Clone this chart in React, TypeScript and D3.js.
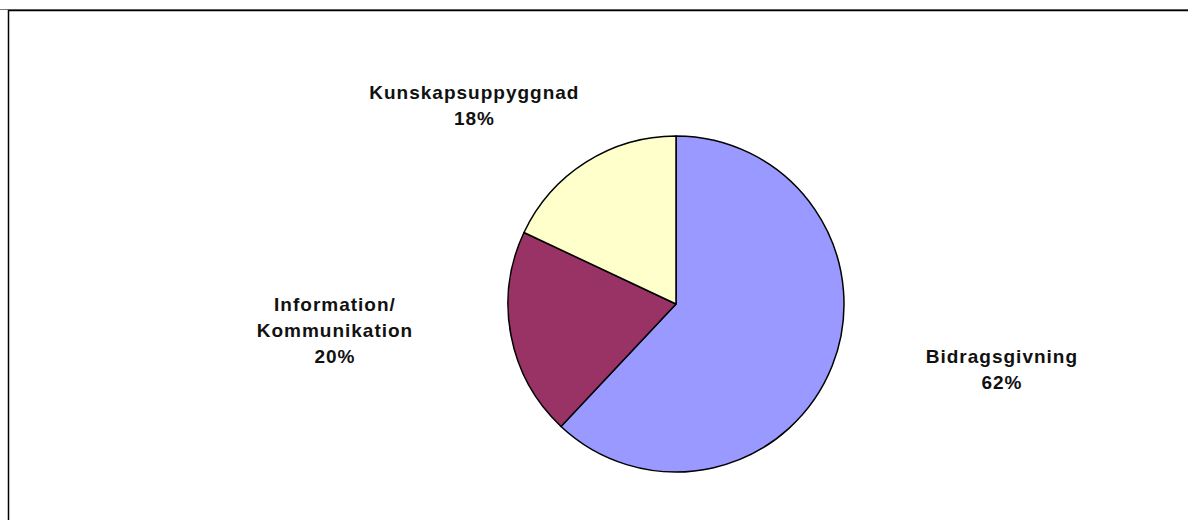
import React from "react";
import * as d3 from "d3";

const categories = ["Bidragsgivning", "Information/\nKommunikation", "Kunskapsuppyggnad"];
const values = [62, 20, 18];
const colors = ["#9999FF", "#993366", "#FFFFCC"];

const W = 1188;
const H = 520;
const cx = 676;
const cy = 304;
const R = 168;

// label anchor (center x, first baseline y) relative to pie center, in units of radius
const labelLayout = [
  { dx: 1.94, dy: 0.35 },
  { dx: -2.03, dy: 0.04 },
  { dx: -1.2, dy: -1.22 },
];

export default function App() {
  const pie = d3.pie<number>().sort(null).value((d) => d)(values);
  const arc = d3.arc<d3.PieArcDatum<number>>().innerRadius(0).outerRadius(R);
  const total = d3.sum(values);
  const lineH = 26;
  return (
    <svg
      width={W}
      height={H}
      style={{ position: "absolute", left: 0, top: 0, background: "#fff" }}
      fontFamily="'Liberation Sans', Arial, sans-serif"
    >
      <line x1={0} x2={W} y1={9.5} y2={9.5} stroke="#777" strokeWidth={1} />
      <rect x={8.5} y={10.5} width={W + 10} height={H} fill="none" stroke="#000" strokeWidth={1.5} />
      <g transform={`translate(${cx},${cy})`}>
        {pie.map((p, i) => (
          <path key={i} d={arc(p) || ""} fill={colors[i]} stroke="#000" strokeWidth={1.5} strokeLinejoin="round" />
        ))}
      </g>
      {pie.map((p, i) => {
        const lines = categories[i].split("\n");
        lines.push(`${Math.round((values[i] / total) * 100)}%`);
        const x = cx + labelLayout[i].dx * R;
        const y0 = cy + labelLayout[i].dy * R;
        return (
          <text key={i} textAnchor="middle" fontSize={19} fontWeight="bold" letterSpacing={1} fill="#111">
            {lines.map((l, j) => (
              <tspan key={j} x={x} y={y0 + j * lineH}>
                {l}
              </tspan>
            ))}
          </text>
        );
      })}
    </svg>
  );
}
